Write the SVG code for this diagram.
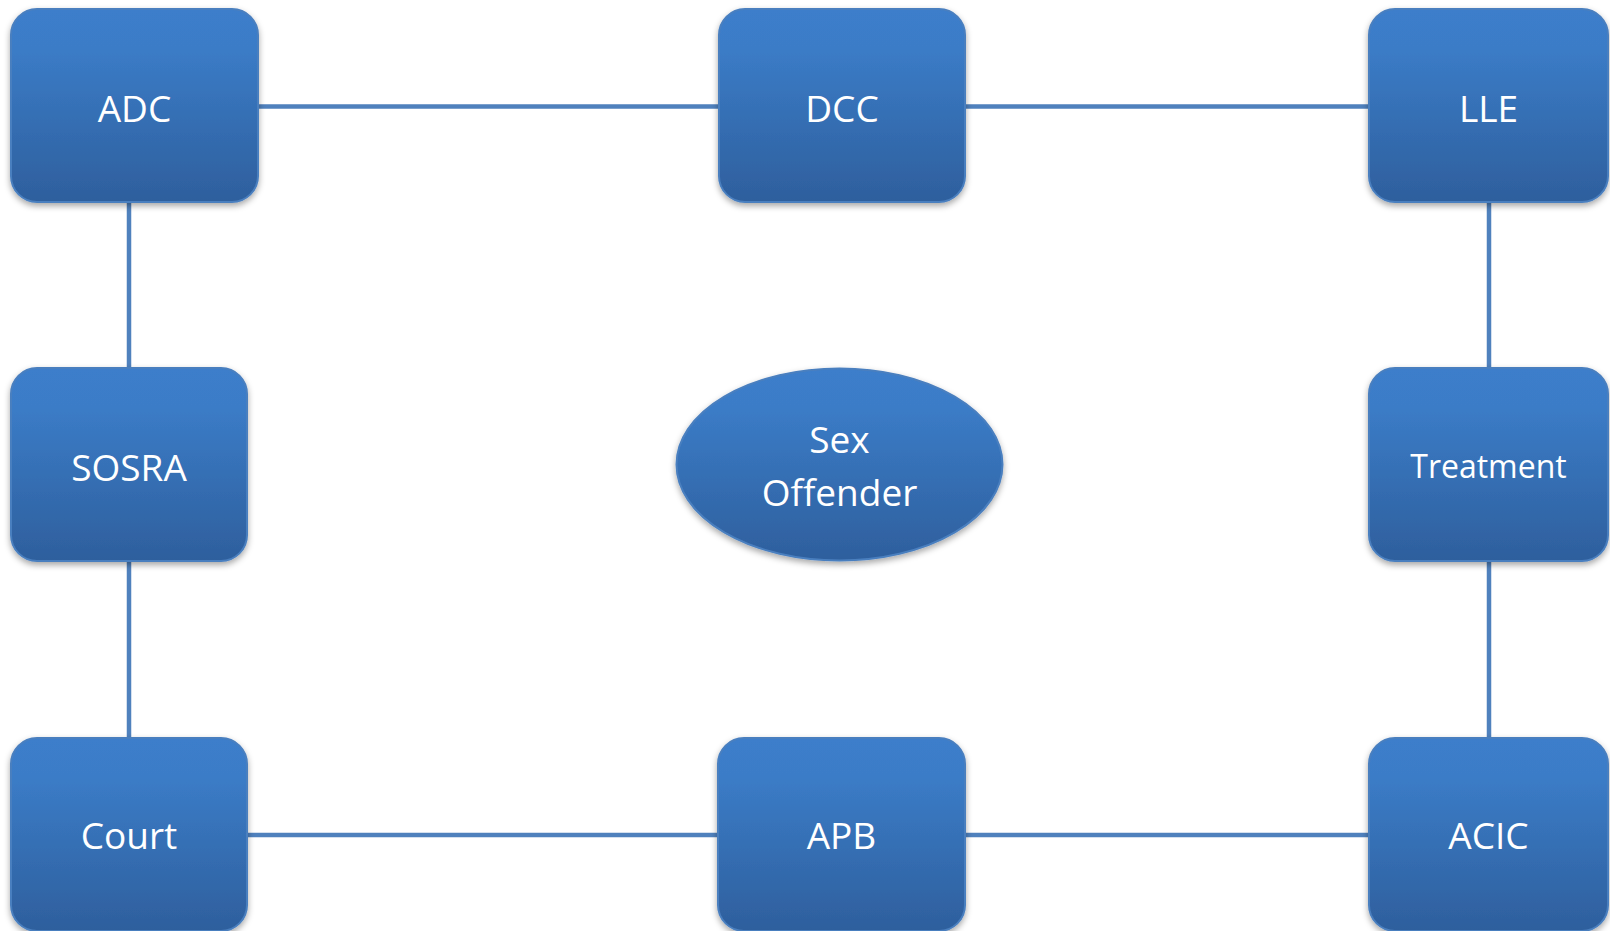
<svg xmlns="http://www.w3.org/2000/svg" width="1610" height="931" viewBox="0 0 1610 931">
<style>
.n{fill:url(#g);stroke:#4a7fbf;stroke-width:2;filter:url(#sh)}
.t{font-family:"Open Sans","Noto Sans",sans-serif;font-size:37px;fill:#fff;text-anchor:middle}
.c{stroke:#4f81bd;stroke-width:4.5;fill:none}
</style>
<defs>
<linearGradient id="g" x1="0" y1="0" x2="0" y2="1">
<stop offset="0" stop-color="#3c7ecb"/>
<stop offset="0.2" stop-color="#3b7cc7"/>
<stop offset="1" stop-color="#2e5f9d"/>
</linearGradient>
<filter id="sh" x="-10%" y="-10%" width="120%" height="125%">
<feDropShadow dx="0" dy="3" stdDeviation="3" flood-color="#000" flood-opacity="0.35"/>
</filter>
</defs>
<rect width="1610" height="931" fill="#fff"/>
<g id="connectors">
<line class="c" x1="258" y1="106.5" x2="719" y2="106.5"/>
<line class="c" x1="965" y1="106.5" x2="1369" y2="106.5"/>
<line class="c" x1="129" y1="202" x2="129" y2="368"/>
<line class="c" x1="129" y1="561" x2="129" y2="738"/>
<line class="c" x1="1489" y1="202" x2="1489" y2="368"/>
<line class="c" x1="1489" y1="561" x2="1489" y2="738"/>
<line class="c" x1="247" y1="835" x2="718" y2="835"/>
<line class="c" x1="965" y1="835" x2="1369" y2="835"/>
</g>
<g id="ADC"><rect class="n" x="11" y="9" width="247" height="193" rx="26"/><text class="t" x="134.5" y="122">ADC</text></g>
<g id="DCC"><rect class="n" x="719" y="9" width="246" height="193" rx="26"/><text class="t" x="842" y="122">DCC</text></g>
<g id="LLE"><rect class="n" x="1369" y="9" width="239" height="193" rx="26"/><text class="t" x="1488.5" y="122">LLE</text></g>
<g id="SOSRA"><rect class="n" x="11" y="368" width="236" height="193" rx="26"/><text class="t" x="129" y="481">SOSRA</text></g>
<g id="Treatment"><rect class="n" x="1369" y="368" width="239" height="193" rx="26"/><text class="t" x="1488.5" y="478" style="font-size:32px">Treatment</text></g>
<g id="Court"><rect class="n" x="11" y="738" width="236" height="193" rx="26"/><text class="t" x="129" y="849">Court</text></g>
<g id="APB"><rect class="n" x="718" y="738" width="247" height="193" rx="26"/><text class="t" x="841.5" y="849">APB</text></g>
<g id="ACIC"><rect class="n" x="1369" y="738" width="239" height="193" rx="26"/><text class="t" x="1488.5" y="849">ACIC</text></g>
<g id="SexOffender"><ellipse class="n" cx="839.5" cy="464.5" rx="163" ry="96"/><text class="t" x="839.5" y="453">Sex</text><text class="t" x="839.5" y="506">Offender</text></g>
</svg>
